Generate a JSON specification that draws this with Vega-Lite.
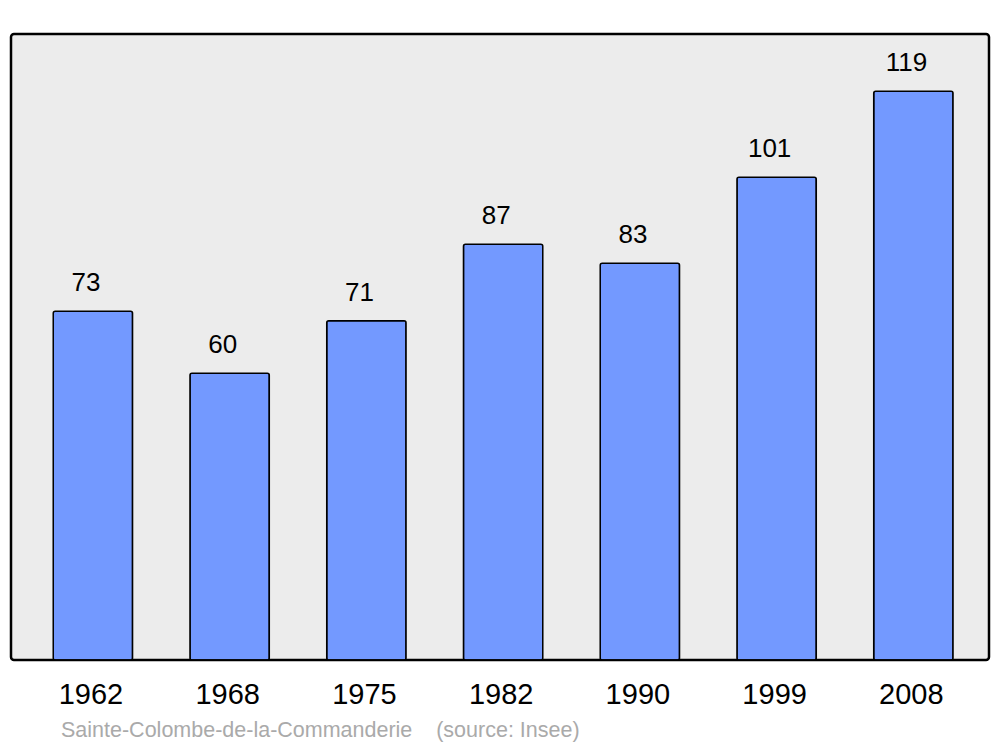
{
  "$schema": "https://vega.github.io/schema/vega-lite/v6.json",
  "width": 978,
  "height": 626,
  "autosize": {"type": "none"},
  "padding": {"left": 11, "top": 34, "right": 11, "bottom": 87},
  "background": "white",
  "config": {
    "view": {"fill": "#ececec", "stroke": "black", "strokeWidth": 2.5, "cornerRadius": 3},
    "font": "Liberation Sans"
  },
  "title": {
    "text": "Sainte-Colombe-de-la-Commanderie\u00a0\u00a0\u00a0\u00a0(source: Insee)",
    "orient": "bottom",
    "anchor": "start",
    "offset": 11,
    "dx": 50,
    "fontSize": 21.5,
    "fontWeight": "normal",
    "color": "#aaaaaa",
    "font": "Liberation Sans"
  },
  "data": {
    "values": [
      {"year": "1962", "pop": 73},
      {"year": "1968", "pop": 60},
      {"year": "1975", "pop": 71},
      {"year": "1982", "pop": 87},
      {"year": "1990", "pop": 83},
      {"year": "1999", "pop": 101},
      {"year": "2008", "pop": 119}
    ]
  },
  "encoding": {
    "x": {
      "field": "year",
      "type": "ordinal",
      "scale": {"paddingInner": 0.42, "paddingOuter": 0.286, "align": 0.54},
      "axis": {"title": null, "domain": false, "ticks": false, "labelAngle": 0, "labelFontSize": 29, "labelColor": "black", "labelPadding": 20, "labelOffset": -2, "labelFont": "Liberation Sans"}
    },
    "y": {
      "field": "pop",
      "type": "quantitative",
      "scale": {"domain": [0, 131], "nice": false},
      "axis": null
    }
  },
  "layer": [
    {
      "mark": {"type": "bar", "fill": "#7399ff", "stroke": "black", "strokeWidth": 1.5, "cornerRadius": 2}
    },
    {
      "mark": {"type": "text", "baseline": "alphabetic", "dy": -20, "dx": -7, "fontSize": 26, "color": "black", "font": "Liberation Sans"},
      "encoding": {"text": {"field": "pop", "type": "quantitative"}}
    }
  ]
}
